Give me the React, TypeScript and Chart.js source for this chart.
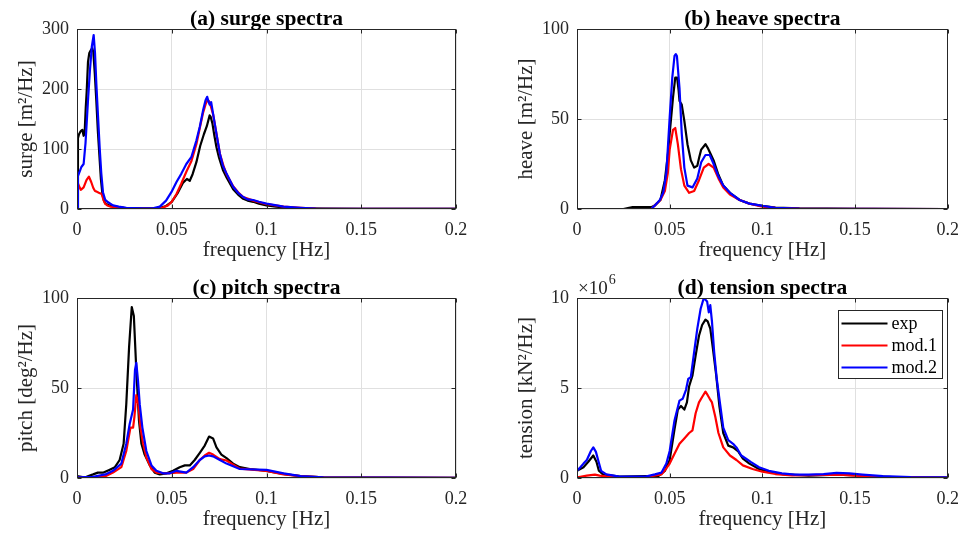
import React, { useEffect, useRef } from 'react';
import { Chart, registerables } from 'chart.js';

Chart.register(...registerables);

type Pt = [number, number];

const FONT = '"Liberation Serif", "Times New Roman", Times, serif';

// ---------- axes / ticks ----------
const freqTicks = [0, 0.05, 0.1, 0.15, 0.2];
const freqTickLabels = ['0', '0.05', '0.1', '0.15', '0.2'];

const surgeTicks = [0, 100, 200, 300];
const surgeTickLabels = ['0', '100', '200', '300'];
const heaveTicks = [0, 50, 100];
const heaveTickLabels = ['0', '50', '100'];
const pitchTicks = [0, 50, 100];
const pitchTickLabels = ['0', '50', '100'];
const tensionTicks = [0, 5, 10];
const tensionTickLabels = ['0', '5', '10'];

const seriesNames = ['exp', 'mod.1', 'mod.2'];
const seriesColors = ['#000000', '#ff0000', '#0000ff'];

// ---------- data: [frequency Hz, spectral density] ----------
const surgeExp: Pt[] = [
  [0, 0], [0.0005, 118], [0.001, 124], [0.002, 130], [0.0028, 132], [0.0035, 122], [0.004, 125],
  [0.0046, 168], [0.0051, 195], [0.0058, 245], [0.0065, 260], [0.0072, 264], [0.008, 268],
  [0.0086, 262], [0.0094, 225], [0.0102, 180], [0.011, 130], [0.0118, 90], [0.0126, 50],
  [0.0134, 25], [0.0142, 14], [0.015, 9], [0.017, 6], [0.02, 4], [0.025, 2], [0.03, 1.5],
  [0.035, 1], [0.04, 1], [0.044, 2], [0.047, 5], [0.05, 12], [0.053, 26], [0.056, 44],
  [0.058, 50], [0.0595, 47], [0.061, 58], [0.063, 78], [0.065, 105], [0.067, 125], [0.0685, 138],
  [0.07, 156], [0.0705, 154], [0.0715, 142], [0.0725, 122], [0.0736, 103], [0.075, 85],
  [0.077, 65], [0.079, 52], [0.0824, 33], [0.085, 24], [0.0877, 17], [0.09, 14], [0.093, 12],
  [0.096, 9], [0.1, 6], [0.105, 4], [0.11, 2.5], [0.115, 1.5], [0.12, 1], [0.13, 0.5],
  [0.15, 0.2], [0.2, 0.1],
];
const surgeMod1: Pt[] = [
  [0, 48], [0.0008, 40], [0.002, 32], [0.0035, 36], [0.005, 48], [0.0063, 54], [0.0075, 45],
  [0.0086, 35], [0.0095, 30], [0.0104, 29], [0.0115, 27], [0.013, 25], [0.014, 15], [0.0148, 9],
  [0.016, 6], [0.0175, 4], [0.02, 3], [0.025, 1.5], [0.03, 0.8], [0.04, 0.6], [0.045, 2],
  [0.048, 6], [0.05, 12], [0.0525, 25], [0.055, 42], [0.0577, 62], [0.0604, 80], [0.063, 108],
  [0.065, 138], [0.0665, 160], [0.068, 176], [0.069, 182], [0.07, 178], [0.0718, 158],
  [0.0736, 125], [0.0754, 92], [0.0775, 70], [0.0789, 58], [0.0824, 38], [0.085, 28],
  [0.0877, 20], [0.093, 14], [0.1, 8], [0.109, 4], [0.118, 2], [0.126, 0.5], [0.15, 0.2], [0.2, 0.1],
];
const surgeMod2: Pt[] = [
  [0, 0], [0.0005, 55], [0.0015, 63], [0.0023, 70], [0.0035, 75], [0.0045, 110], [0.0058, 181],
  [0.0068, 230], [0.0078, 270], [0.0088, 290], [0.0095, 260], [0.0102, 209], [0.011, 160],
  [0.012, 100], [0.0128, 60], [0.0137, 28], [0.0148, 16], [0.016, 12], [0.019, 6], [0.022, 4],
  [0.026, 2], [0.03, 1.5], [0.035, 1], [0.04, 1], [0.0437, 4], [0.047, 14], [0.0498, 28],
  [0.0525, 45], [0.0551, 59], [0.0577, 75], [0.0604, 87], [0.063, 114], [0.0648, 137],
  [0.0665, 164], [0.0678, 181], [0.0687, 187], [0.0693, 180], [0.07, 174], [0.0708, 178],
  [0.0718, 159], [0.0736, 125], [0.0754, 92], [0.077, 72], [0.0789, 59], [0.0824, 37],
  [0.085, 27], [0.0877, 20], [0.09, 16], [0.093, 15], [0.096, 12], [0.1, 9], [0.109, 4],
  [0.118, 2], [0.126, 0.5], [0.15, 0.2], [0.2, 0.1],
];

const heaveExp: Pt[] = [
  [0, 0], [0.025, 0], [0.03, 1], [0.035, 1], [0.04, 1], [0.042, 2], [0.045, 5], [0.0474, 16],
  [0.049, 30], [0.05, 42], [0.0518, 62], [0.053, 73], [0.054, 73], [0.0548, 66], [0.0553, 60],
  [0.0565, 58], [0.0579, 49], [0.0596, 36], [0.0614, 27], [0.0632, 23], [0.0649, 24],
  [0.066, 29], [0.067, 33], [0.0693, 36], [0.0705, 34], [0.0719, 31], [0.0737, 27],
  [0.0763, 19], [0.0789, 13], [0.0825, 9], [0.0877, 5], [0.093, 3], [0.1, 1.7], [0.107, 0.8],
  [0.12, 0.3], [0.15, 0.1], [0.2, 0],
];
const heaveMod1: Pt[] = [
  [0, 0], [0.04, 0], [0.042, 2], [0.045, 5], [0.0474, 10], [0.049, 20], [0.05, 33], [0.0518, 44],
  [0.053, 45], [0.0544, 36], [0.0561, 22], [0.0579, 13], [0.0605, 9], [0.0632, 10], [0.0658, 16],
  [0.0684, 23], [0.071, 25], [0.0737, 23], [0.0763, 17], [0.0789, 12], [0.0825, 8], [0.0877, 5],
  [0.093, 3], [0.1, 1.3], [0.107, 0.6], [0.12, 0.2], [0.2, 0],
];
const heaveMod2: Pt[] = [
  [0, 0], [0.04, 0], [0.042, 2], [0.0447, 5], [0.0465, 9], [0.0482, 20], [0.05, 51], [0.0514, 73],
  [0.0526, 85], [0.0533, 86], [0.0539, 85], [0.0553, 67], [0.0565, 42], [0.0579, 23],
  [0.0596, 13], [0.0623, 12], [0.0649, 17], [0.067, 26], [0.0693, 30], [0.0716, 30],
  [0.0737, 25], [0.0763, 18], [0.0789, 13], [0.0825, 9], [0.0877, 5], [0.093, 3], [0.1, 1.7],
  [0.107, 0.7], [0.12, 0.2], [0.2, 0],
];

const pitchExp: Pt[] = [
  [0, 1], [0.003, 0.5], [0.005, 0.7], [0.0085, 2], [0.011, 3], [0.014, 3], [0.017, 4.5],
  [0.02, 6], [0.0225, 10], [0.0246, 19], [0.026, 41], [0.0275, 73], [0.0289, 95], [0.03, 90],
  [0.0313, 60], [0.0327, 32], [0.034, 19], [0.0357, 13], [0.0384, 7], [0.041, 3], [0.0437, 2],
  [0.0472, 2.6], [0.0507, 4], [0.0542, 6], [0.0569, 7], [0.0595, 7], [0.0621, 10], [0.0648, 14],
  [0.0674, 18], [0.0697, 23], [0.0718, 22], [0.0736, 17], [0.0762, 13], [0.0789, 11],
  [0.0824, 8], [0.0859, 6], [0.0912, 5], [0.1, 4], [0.105, 3], [0.1106, 2], [0.118, 1],
  [0.13, 0.4], [0.15, 0.2], [0.2, 0.1],
];
const pitchMod1: Pt[] = [
  [0, 0.4], [0.01, 0.4], [0.015, 1], [0.019, 3], [0.0234, 6], [0.026, 15], [0.0282, 28],
  [0.0296, 28], [0.0303, 34], [0.0313, 46], [0.0324, 41], [0.0335, 28], [0.0349, 19],
  [0.0366, 11.5], [0.0393, 5], [0.0419, 3], [0.0472, 2.6], [0.0525, 3], [0.0577, 3],
  [0.0613, 5], [0.0648, 10], [0.0674, 12.5], [0.0697, 14], [0.0718, 13], [0.0754, 10.5],
  [0.0789, 9.7], [0.0824, 7.4], [0.0859, 5.2], [0.1, 4], [0.109, 2], [0.118, 1], [0.13, 0.4],
  [0.2, 0.1],
];
const pitchMod2: Pt[] = [
  [0, 0.4], [0.0085, 0.7], [0.015, 2], [0.019, 4], [0.0234, 8], [0.026, 19], [0.0278, 30],
  [0.0296, 38], [0.0306, 60], [0.0313, 64], [0.0322, 54], [0.0331, 41], [0.0345, 28],
  [0.0366, 15], [0.0393, 7], [0.0419, 4], [0.0454, 2.6], [0.049, 2.6], [0.0525, 4], [0.0577, 3],
  [0.0613, 6], [0.0648, 10], [0.0674, 12], [0.0697, 12.5], [0.0718, 12], [0.0754, 10],
  [0.0789, 8], [0.0859, 5], [0.1, 4.5], [0.109, 2.6], [0.118, 1], [0.13, 0.4], [0.2, 0.1],
];

// tension values in units of 10^6 kN^2/Hz
const tensionExp: Pt[] = [
  [0, 0.4], [0.0035, 0.6], [0.0061, 0.9], [0.0088, 1.25], [0.0105, 0.9], [0.0118, 0.4],
  [0.014, 0.2], [0.023, 0.08], [0.044, 0.12], [0.0474, 0.4], [0.05, 1.0], [0.0526, 2.7],
  [0.0544, 3.8], [0.0561, 4.0], [0.0579, 3.8], [0.0593, 4.2], [0.0605, 5.1], [0.0623, 5.7],
  [0.064, 6.8], [0.0658, 7.9], [0.0675, 8.5], [0.0693, 8.8], [0.0705, 8.7], [0.0719, 8.3],
  [0.0733, 7.2], [0.0751, 5.7], [0.0768, 4.0], [0.0789, 2.5], [0.0816, 1.8], [0.0842, 1.7],
  [0.0868, 1.5], [0.0895, 1.07], [0.093, 0.8], [0.0982, 0.5], [0.1035, 0.35], [0.1105, 0.22],
  [0.125, 0.13], [0.14, 0.19], [0.154, 0.13], [0.17, 0.05], [0.2, 0.02],
];
const tensionMod1: Pt[] = [
  [0, 0.04], [0.0018, 0.07], [0.0053, 0.13], [0.0096, 0.19], [0.0122, 0.13], [0.019, 0.05],
  [0.037, 0.05], [0.0456, 0.2], [0.048, 0.5], [0.05, 0.8], [0.0526, 1.35], [0.0553, 1.9],
  [0.0579, 2.2], [0.0605, 2.5], [0.0623, 2.65], [0.064, 3.6], [0.0658, 4.2], [0.0675, 4.5],
  [0.0693, 4.8], [0.0705, 4.6], [0.0716, 4.4], [0.0728, 4.2], [0.0746, 3.4], [0.0763, 2.5],
  [0.0789, 1.7], [0.0825, 1.25], [0.086, 1.0], [0.0895, 0.7], [0.0947, 0.5], [0.1, 0.35],
  [0.107, 0.22], [0.116, 0.15], [0.133, 0.17], [0.142, 0.19], [0.15, 0.13], [0.16, 0.07],
  [0.2, 0.02],
];
const tensionMod2: Pt[] = [
  [0, 0.4], [0.0018, 0.6], [0.0035, 0.8], [0.0053, 1.0], [0.0075, 1.5], [0.0088, 1.7],
  [0.0102, 1.45], [0.0114, 1.0], [0.013, 0.4], [0.0158, 0.2], [0.0228, 0.08], [0.037, 0.08],
  [0.042, 0.2], [0.0456, 0.3], [0.0482, 0.8], [0.05, 1.5], [0.0526, 3.2], [0.0553, 4.3],
  [0.057, 4.4], [0.0588, 4.9], [0.06, 5.5], [0.0614, 5.6], [0.0632, 7.0], [0.0649, 8.3],
  [0.0667, 9.4], [0.0684, 10.0], [0.0702, 9.8], [0.0711, 9.2], [0.0719, 9.6], [0.0728, 8.7],
  [0.074, 7.0], [0.0754, 5.5], [0.0772, 4.1], [0.0789, 2.8], [0.0816, 2.1], [0.0842, 1.9],
  [0.086, 1.7], [0.0886, 1.25], [0.0912, 1.07], [0.0939, 0.88], [0.0982, 0.6], [0.1035, 0.4],
  [0.1105, 0.26], [0.1175, 0.19], [0.125, 0.19], [0.133, 0.22], [0.14, 0.28], [0.147, 0.26],
  [0.154, 0.19], [0.165, 0.1], [0.18, 0.05], [0.2, 0.03],
];

// ---------- layout ----------
const CANVAS_H = 267;
const PLOT_LEFT = 77;
const PLOT_RIGHT = 456;
const PLOT_TOP = 29;
const PLOT_BOTTOM = 209;
const TICK_COLOR = '#262626';
const TICK_SIZE = 18;
const LABEL_SIZE = 21;
const TITLE_SIZE = 21.5;

interface PanelSpec {
  title: string;
  yLabel: string;
  yMax: number;
  yTicks: number[];
  yTickLabels: string[];
  series: Pt[][];
  legend?: boolean;
  exponent?: string;
  left: number;
  top: number;
  width: number;
}

const panels: PanelSpec[] = [
  { title: '(a) surge spectra', yLabel: 'surge [m²/Hz]', yMax: 300, yTicks: surgeTicks, yTickLabels: surgeTickLabels,
    series: [surgeExp, surgeMod1, surgeMod2], left: 0, top: 0, width: 500 },
  { title: '(b) heave spectra', yLabel: 'heave [m²/Hz]', yMax: 100, yTicks: heaveTicks, yTickLabels: heaveTickLabels,
    series: [heaveExp, heaveMod1, heaveMod2], left: 500, top: 0, width: 469 },
  { title: '(c) pitch spectra', yLabel: 'pitch [deg²/Hz]', yMax: 100, yTicks: pitchTicks, yTickLabels: pitchTickLabels,
    series: [pitchExp, pitchMod1, pitchMod2], left: 0, top: 269, width: 500 },
  { title: '(d) tension spectra', yLabel: 'tension [kN²/Hz]', yMax: 10, yTicks: tensionTicks, yTickLabels: tensionTickLabels,
    series: [tensionExp, tensionMod1, tensionMod2], legend: true, exponent: '6', left: 500, top: 269, width: 469 },
];

function makeFramePlugin(spec: PanelSpec) {
  return {
    id: 'frame',
    afterDatasetsDraw(chart: any) {
      const { ctx, chartArea } = chart;
      const { left, top, right, bottom } = chartArea;
      const xs = chart.scales.x;
      const ys = chart.scales.y;
      ctx.save();
      // box
      ctx.strokeStyle = TICK_COLOR;
      ctx.lineWidth = 1;
      const l = Math.round(left) + 0.5, r = Math.round(right) - 0.5;
      const t = Math.round(top) + 0.5, b = Math.round(bottom) - 0.5;
      ctx.strokeRect(l, t, r - l, b - t);
      // inward tick marks
      ctx.beginPath();
      for (const v of freqTicks) {
        const px = Math.round(xs.getPixelForValue(v)) + 0.5;
        ctx.moveTo(px, b); ctx.lineTo(px, b - 4);
        ctx.moveTo(px, t); ctx.lineTo(px, t + 4);
      }
      for (const v of spec.yTicks) {
        const py = Math.round(ys.getPixelForValue(v)) + 0.5;
        ctx.moveTo(l, py); ctx.lineTo(l + 4, py);
        ctx.moveTo(r, py); ctx.lineTo(r - 4, py);
      }
      ctx.stroke();
      // title
      ctx.fillStyle = '#000';
      ctx.font = `bold ${TITLE_SIZE}px ${FONT}`;
      ctx.textAlign = 'center';
      ctx.textBaseline = 'alphabetic';
      ctx.fillText(spec.title, (left + right) / 2, 24.5);
      // exponent
      if (spec.exponent) {
        ctx.fillStyle = TICK_COLOR;
        ctx.textAlign = 'left';
        ctx.font = `19px ${FONT}`;
        const base = '×10';
        ctx.fillText(base, left + 1, 25);
        const w = ctx.measureText(base).width;
        ctx.font = `14px ${FONT}`;
        ctx.fillText(spec.exponent, left + 1 + w + 1, 15);
      }
      // legend
      if (spec.legend) {
        const bx = 338.5, by = 41.5, bw = 104, bh = 68;
        ctx.fillStyle = '#fff';
        ctx.fillRect(bx, by, bw, bh);
        ctx.strokeStyle = TICK_COLOR;
        ctx.lineWidth = 1;
        ctx.strokeRect(bx, by, bw, bh);
        ctx.font = `18px ${FONT}`;
        ctx.textBaseline = 'middle';
        ctx.textAlign = 'left';
        seriesNames.forEach((name, i) => {
          const yy = by + 13 + i * 22;
          ctx.strokeStyle = seriesColors[i];
          ctx.lineWidth = 2.2;
          ctx.beginPath();
          ctx.moveTo(bx + 3, yy);
          ctx.lineTo(bx + 49, yy);
          ctx.stroke();
          ctx.fillStyle = '#000';
          ctx.fillText(name, bx + 53, yy + 1);
        });
      }
      ctx.restore();
    },
  };
}

function Panel({ spec }: { spec: PanelSpec }) {
  const ref = useRef<HTMLCanvasElement>(null);
  useEffect(() => {
    const canvas = ref.current;
    if (!canvas) return;
    const chart = new Chart(canvas, {
      type: 'line',
      data: {
        datasets: spec.series.map((s, i) => ({
          label: seriesNames[i],
          data: s.map(([x, y]) => ({ x, y })),
          borderColor: seriesColors[i],
          backgroundColor: seriesColors[i],
          borderWidth: 2.2,
          pointRadius: 0,
          tension: 0,
          fill: false,
          borderJoinStyle: 'round',
          borderCapStyle: 'round',
          order: 2 - i,
        })),
      },
      options: {
        responsive: false,
        animation: false,
        devicePixelRatio: 1,
        events: [],
        layout: { padding: { left: 0, top: PLOT_TOP, right: spec.width - PLOT_RIGHT, bottom: 0 } },
        plugins: { legend: { display: false }, tooltip: { enabled: false }, title: { display: false } },
        scales: {
          x: {
            type: 'linear',
            min: 0,
            max: 0.2,
            afterBuildTicks: (s: any) => { s.ticks = freqTicks.map((v) => ({ value: v })); },
            afterFit: (s: any) => { s.height = CANVAS_H - PLOT_BOTTOM; },
            ticks: {
              callback: (_v: any, i: number) => freqTickLabels[i],
              font: { family: FONT, size: TICK_SIZE },
              color: TICK_COLOR,
              padding: 10,
              maxRotation: 0,
              autoSkip: false,
            },
            grid: { color: '#e0e0e0', drawTicks: false, lineWidth: 1 },
            border: { display: false },
            title: {
              display: true,
              text: 'frequency [Hz]',
              font: { family: FONT, size: LABEL_SIZE },
              color: TICK_COLOR,
              padding: { top: 0, bottom: 4 },
            },
          },
          y: {
            type: 'linear',
            min: 0,
            max: spec.yMax,
            afterBuildTicks: (s: any) => { s.ticks = spec.yTicks.map((v) => ({ value: v })); },
            afterFit: (s: any) => { s.width = PLOT_LEFT; },
            ticks: {
              callback: (_v: any, i: number) => spec.yTickLabels[i],
              font: { family: FONT, size: TICK_SIZE },
              color: TICK_COLOR,
              padding: 8,
              autoSkip: false,
            },
            grid: { color: '#e0e0e0', drawTicks: false, lineWidth: 1 },
            border: { display: false },
            title: {
              display: true,
              text: spec.yLabel,
              font: { family: FONT, size: LABEL_SIZE },
              color: TICK_COLOR,
              padding: { top: 14, bottom: 0 },
            },
          },
        },
      } as any,
      plugins: [makeFramePlugin(spec)],
    });
    return () => chart.destroy();
  }, [spec]);
  return (
    <canvas
      ref={ref}
      width={spec.width}
      height={CANVAS_H}
      style={{ position: 'absolute', left: spec.left, top: spec.top, width: spec.width, height: CANVAS_H, display: 'block' }}
    />
  );
}

export default function App() {
  return (
    <div style={{ position: 'absolute', left: 0, top: 0, width: 969, height: 536, background: '#fff', overflow: 'hidden' }}>
      {panels.map((p) => (
        <Panel key={p.title} spec={p} />
      ))}
    </div>
  );
}
